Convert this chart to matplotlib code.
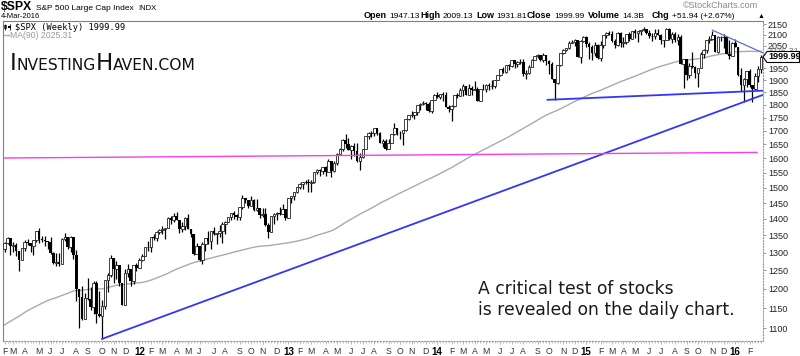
import numpy as np
import pandas as pd
import matplotlib
matplotlib.use("Agg")
import matplotlib.pyplot as plt
from matplotlib.patches import Polygon

# weekly $SPX bars, week ending 11-Feb-2011 .. 4-Mar-2016
closes = [
    # 2011
    1329, 1343, 1320, 1321, 1304, 1279, 1314, 1332, 1328, 1320, 1337, 1364, 1340, 1338, 1333, 1331,
    1300, 1271, 1272, 1268, 1340, 1344, 1316, 1345, 1292, 1199, 1179, 1124, 1177, 1174, 1154, 1216,
    1136, 1131, 1155, 1225, 1238, 1285, 1253, 1264, 1216, 1159, 1244, 1255, 1220, 1265, 1258,
    # 2012
    1278, 1289, 1315, 1316, 1345, 1343, 1361, 1366, 1370, 1371, 1404, 1397, 1408, 1398, 1370, 1379,
    1403, 1369, 1353, 1295, 1318, 1278, 1326, 1343, 1335, 1362, 1355, 1357, 1363, 1386, 1391, 1406,
    1418, 1411, 1407, 1438, 1466, 1460, 1441, 1461, 1429, 1433, 1412, 1414, 1380, 1360, 1409, 1416,
    1418, 1414, 1430, 1402,
    # 2013
    1466, 1472, 1486, 1503, 1513, 1518, 1520, 1516, 1518, 1551, 1561, 1557, 1569, 1553, 1589, 1555,
    1582, 1614, 1634, 1667, 1650, 1631, 1643, 1627, 1592, 1606, 1632, 1680, 1692, 1692, 1710, 1691,
    1656, 1664, 1633, 1655, 1688, 1710, 1692, 1691, 1703, 1745, 1760, 1762, 1771, 1798, 1805, 1806,
    1805, 1775, 1818, 1841,
    # 2014
    1831, 1842, 1839, 1790, 1783, 1797, 1839, 1836, 1859, 1878, 1841, 1867, 1858, 1865, 1816, 1865,
    1863, 1881, 1878, 1878, 1901, 1924, 1949, 1936, 1963, 1961, 1985, 1968, 1978, 1978, 1925, 1932,
    1955, 1988, 2003, 2008, 1986, 2010, 1983, 1968, 1906, 1887, 1965, 2018, 2032, 2040, 2064, 2068,
    2075, 2002, 2071, 2089,
    # 2015
    2058, 2045, 2019, 2052, 1995, 2055, 2097, 2110, 2105, 2071, 2053, 2108, 2061, 2067, 2102, 2081,
    2118, 2108, 2116, 2123, 2126, 2107, 2093, 2094, 2110, 2101, 2077, 2077, 2127, 2080, 2104, 2078,
    2092, 1971, 1989, 1921, 1961, 1958, 1931, 1951, 2015, 2033, 2075, 2079, 2099, 2023, 2089, 2090,
    2092, 2012, 2006, 2061, 2044,
    # 2016
    1922, 1880, 1907, 1940, 1880, 1865, 1918, 1948, 2000,
]
highs = [
    1330, 1344, 1342, 1332, 1327, 1304, 1314, 1337, 1339, 1329, 1337, 1364, 1371, 1349, 1347, 1334,
    1346, 1302, 1298, 1298, 1341, 1357, 1344, 1347, 1345, 1307, 1199, 1208, 1190, 1230, 1204, 1220,
    1221, 1195, 1171, 1225, 1242, 1293, 1285, 1277, 1264, 1217, 1255, 1267, 1255, 1266, 1270,
    1285, 1297, 1316, 1333, 1345, 1355, 1362, 1368, 1378, 1373, 1405, 1409, 1420, 1423, 1398, 1391,
    1406, 1415, 1370, 1354, 1329, 1319, 1330, 1343, 1364, 1363, 1374, 1358, 1380, 1391, 1395, 1407,
    1419, 1426, 1414, 1438, 1475, 1466, 1460, 1471, 1464, 1464, 1434, 1434, 1434, 1388, 1409, 1419,
    1423, 1438, 1448, 1430,
    1467, 1472, 1486, 1503, 1514, 1518, 1525, 1530, 1525, 1552, 1564, 1564, 1570, 1573, 1597, 1589,
    1592, 1618, 1636, 1668, 1687, 1674, 1646, 1654, 1654, 1620, 1632, 1680, 1694, 1698, 1710, 1709,
    1696, 1670, 1669, 1671, 1689, 1730, 1711, 1698, 1704, 1745, 1760, 1775, 1771, 1799, 1806, 1814,
    1810, 1811, 1818, 1844,
    1850, 1843, 1851, 1850, 1798, 1798, 1841, 1847, 1867, 1884, 1878, 1884, 1875, 1897, 1873, 1865,
    1884, 1885, 1889, 1903, 1901, 1924, 1949, 1956, 1964, 1969, 1985, 1986, 1983, 1992, 1992, 1942,
    1964, 1993, 2006, 2012, 2008, 2019, 2008, 1986, 1977, 1906, 1965, 2018, 2034, 2041, 2071, 2076,
    2079, 2076, 2077, 2094,
    2094, 2065, 2054, 2065, 2057, 2072, 2097, 2111, 2119, 2118, 2080, 2114, 2114, 2090, 2103, 2111,
    2120, 2125, 2120, 2124, 2135, 2127, 2122, 2110, 2127, 2126, 2102, 2078, 2130, 2133, 2114, 2113,
    2105, 2101, 1993, 1987, 1975, 2021, 1960, 1952, 2020, 2034, 2076, 2094, 2116, 2100, 2094, 2095,
    2104, 2090, 2077, 2067, 2082,
    2044, 1950, 1908, 1940, 1947, 1881, 1930, 1962, 2009,
]
lows = [
    1302, 1324, 1294, 1303, 1291, 1249, 1283, 1305, 1322, 1303, 1294, 1331, 1329, 1332, 1318, 1311,
    1295, 1269, 1262, 1263, 1268, 1334, 1309, 1303, 1282, 1169, 1102, 1121, 1123, 1170, 1145, 1136,
    1114, 1127, 1075, 1149, 1192, 1233, 1215, 1226, 1209, 1158, 1158, 1231, 1209, 1213, 1248,
    1258, 1275, 1289, 1306, 1301, 1337, 1335, 1354, 1355, 1340, 1371, 1386, 1392, 1396, 1357, 1359,
    1366, 1368, 1344, 1292, 1296, 1277, 1267, 1306, 1324, 1309, 1350, 1326, 1346, 1329, 1354, 1390,
    1397, 1399, 1398, 1396, 1430, 1451, 1434, 1441, 1425, 1426, 1403, 1406, 1377, 1343, 1359, 1385,
    1398, 1412, 1422, 1398,
    1402, 1451, 1461, 1482, 1495, 1495, 1511, 1486, 1485, 1514, 1547, 1538, 1545, 1539, 1552, 1537,
    1553, 1578, 1614, 1627, 1636, 1630, 1598, 1608, 1588, 1560, 1601, 1632, 1671, 1676, 1680, 1684,
    1654, 1640, 1628, 1634, 1656, 1686, 1684, 1670, 1646, 1700, 1740, 1752, 1746, 1760, 1780, 1799,
    1780, 1772, 1767, 1818,
    1827, 1823, 1815, 1790, 1772, 1738, 1791, 1826, 1834, 1835, 1839, 1839, 1839, 1858, 1814, 1816,
    1860, 1851, 1859, 1863, 1868, 1901, 1916, 1930, 1932, 1944, 1958, 1952, 1955, 1968, 1917, 1904,
    1928, 1956, 1987, 1995, 1984, 1979, 1965, 1926, 1905, 1821, 1886, 1961, 2014, 2026, 2034, 2062,
    2049, 2002, 1973, 2066,
    2046, 1992, 1988, 2005, 1989, 1981, 2041, 2085, 2098, 2066, 2039, 2049, 2046, 2045, 2057, 2073,
    2079, 2086, 2068, 2099, 2117, 2104, 2085, 2072, 2083, 2100, 2056, 2045, 2076, 2078, 2063, 2068,
    2053, 1970, 1867, 1903, 1911, 1953, 1909, 1872, 1951, 1994, 2019, 2064, 2076, 2023, 2019, 2070,
    2042, 2012, 1993, 2005, 2044,
    1918, 1857, 1812, 1872, 1872, 1810, 1865, 1891, 1932,
]
first_open = 1311

# closes before the chart (29-May-2009 .. 4-Feb-2011), only used for the MA(90)
pre_closes = [
    919, 940, 946, 921, 918, 896, 879, 940, 979, 987, 1010, 1005, 1026, 1029, 1016, 1042,
    1068, 1044, 1025, 1071, 1087, 1080, 1036, 1069, 1093, 1091, 1091, 1106, 1106, 1102, 1127, 1115,
    1145, 1136, 1092, 1074, 1066, 1075, 1109, 1104, 1139, 1150, 1160, 1167, 1179, 1194, 1192, 1217,
    1187, 1111, 1136, 1088, 1089, 1065, 1092, 1117, 1076, 1023, 1078, 1065, 1102, 1102, 1122, 1079,
    1071, 1065, 1105, 1110, 1125, 1149, 1147, 1166, 1176, 1183, 1183, 1225, 1200, 1200, 1189, 1224,
    1240, 1244, 1257, 1258, 1272, 1293, 1283, 1276, 1311,
]

# hand drawn lines (bar index, price)
support_x, support_y = [34, 264.7], [1075, 1840]
neck_x, neck_y = [189.5, 264.7], [1820, 1857]
resist_x, resist_y = [247, 264.7], [2122, 2018]
level_x, level_y = [-0.6, 262.6], [1601, 1621]

price_ticks = [1100, 1150, 1200, 1250, 1300, 1350, 1400, 1450, 1500, 1550, 1600, 1650, 1700,
               1750, 1800, 1850, 1900, 1950, 2050, 2100, 2150]
header = [("Open", "1947.13", 364), ("High", "2009.13", 420), ("Low", "1931.81", 476),
          ("Close", "1999.99", 527), ("Volume", "14.3B", 588), ("Chg", "+51.94 (+2.67%)", 652)]
last_close_txt = "1999.99"
ma_last_txt = "2026.31"
ma_legend_txt = "MA(90) 2025.31"
note_lines = ["A critical test of stocks", "is revealed on the daily chart."]

SANS = ["Liberation Sans", "DejaVu Sans"]


def main():
    c = np.array(closes, float)
    h = np.array(highs, float)
    l = np.array(lows, float)
    o = np.concatenate([[first_open], c[:-1]])
    n = len(c)
    x = np.arange(n)
    ma = pd.Series(pre_closes + closes, dtype=float).rolling(90).mean().to_numpy()[len(pre_closes):]
    dates = pd.date_range("2011-02-11", periods=n, freq="W-FRI")

    fig = plt.figure(figsize=(8, 3.56), dpi=100)
    ax = fig.add_axes([3 / 800, 15 / 356, 760 / 800, 320 / 356])
    ax.set_yscale("log")

    # candles: hollow when up, filled when down
    up = c >= o
    ax.vlines(x, l, h, color="black", lw=0.9, zorder=2)
    ax.bar(x[up], (c - o)[up], bottom=o[up], width=0.9, facecolor="white",
           edgecolor="#222222", lw=0.6, zorder=3)
    ax.bar(x[~up], (o - c)[~up], bottom=c[~up], width=0.9, color="black", lw=0, zorder=3)

    ax.plot(x, ma, color="#aaaaaa", lw=1.0, zorder=1)
    ax.plot(support_x, support_y, color="#3535f5", lw=1.3, zorder=4)
    ax.plot(neck_x, neck_y, color="#3535f5", lw=1.3, zorder=4)
    ax.plot(resist_x, resist_y, color="#5d6fc4", lw=0.9, zorder=4)
    ax.plot(level_x, level_y, color="#f040f0", lw=1.0, zorder=4)

    ax.set_xlim(-0.6, 264.7)
    ax.set_ylim(1070, 2165)

    # right price axis
    ax.yaxis.tick_right()
    ax.yaxis.set_minor_locator(matplotlib.ticker.NullLocator())
    ax.set_yticks(price_ticks)
    ax.set_yticklabels([str(v) for v in price_ticks])
    ax.tick_params(axis="y", length=2, width=0.6, color="#888888", pad=1.5, labelsize=6.5,
                   labelcolor="#222222")

    # month labels, January shows the year; no label for a month with a single bar at the end
    pos, labs = [], []
    for i, d in enumerate(dates):
        if (i == 0 or d.month != dates[i - 1].month) and i < n - 2:
            pos.append(i)
            labs.append("%02d" % (d.year % 100) if d.month == 1 else "JFMAMJJASOND"[d.month - 1])
    ax.set_xticks(pos)
    ax.set_xticklabels(labs)
    ax.set_xticks(x, minor=True)
    ax.tick_params(axis="x", which="major", length=2, width=0.5, color="#999999", pad=2,
                   labelsize=6.3, labelcolor="#333333")
    ax.tick_params(axis="x", which="minor", length=1.5, width=0.5, color="#aaaaaa")
    for t, s in zip(ax.get_xticklabels(), labs):
        t.set_family(SANS)
        if s.isdigit():
            t.set_fontweight("bold")
            t.set_color("black")
            t.set_fontsize(7)
    for t in ax.get_yticklabels():
        t.set_family(SANS)

    for side in ("top", "left"):
        ax.spines[side].set_color("#808080")
        ax.spines[side].set_linewidth(0.8)
    for side in ("right", "bottom"):
        ax.spines[side].set_color("#999999")
        ax.spines[side].set_linewidth(0.8)
        ax.spines[side].set_linestyle(":")

    # overlay in pixel units for the texts around the chart
    over = fig.add_axes([0, 0, 1, 1], facecolor="none")
    over.set_xlim(0, 800)
    over.set_ylim(356, 0)
    over.axis("off")

    over.text(1, 10.5, "$SPX", fontsize=8.8, fontweight="bold", family=SANS, va="baseline")
    over.text(36, 10.5, "S&P 500 Large Cap Index", fontsize=6, family=SANS, va="baseline")
    over.text(138, 10.5, "INDX", fontsize=5.5, family=SANS, va="baseline")
    over.text(1, 18, "4-Mar-2016", fontsize=5.5, family=SANS, va="baseline")
    over.text(683, 8.5, "\u00a9StockCharts.com", fontsize=6.5, family=SANS, va="baseline",
              color="#888888")
    for lab, val, px in header:
        t = over.text(px, 17.5, lab, fontsize=6.5, fontweight="bold", family=SANS, va="baseline")
        fig.canvas.draw()
        x1 = t.get_window_extent().x1
        over.text(x1 + 2.5, 17.5, val, fontsize=6.0, family=SANS, va="baseline")
    over.text(758, 17.5, "\u25b2", fontsize=5, family=SANS, va="baseline")

    # legend
    over.vlines(5, 23.5, 30, color="black", lw=0.6)
    over.add_patch(plt.Rectangle((3.8, 25), 2.4, 3, fc="white", ec="black", lw=0.5))
    over.vlines(9.5, 24, 29.5, color="black", lw=0.6)
    over.add_patch(plt.Rectangle((8.3, 25.5), 2.4, 2.5, fc="black", lw=0))
    over.text(15, 29.5, "$SPX (Weekly) " + last_close_txt, fontsize=6.2,
              family="DejaVu Sans Mono", va="baseline")
    over.plot([4, 9], [35, 35], color="#aaaaaa", lw=1)
    over.text(10, 37.5, ma_legend_txt, fontsize=6.2, family=SANS, va="baseline", color="#999999")

    # site name in small caps
    xx = 10
    for piece, size in [("I", 16.5), ("NVESTING", 11.2), ("H", 16.5), ("AVEN.COM", 11.2)]:
        t = over.text(xx, 70, piece, fontsize=size, family="DejaVu Sans", va="baseline",
                      color="#111111")
        fig.canvas.draw()
        xx = t.get_window_extent().x1

    for k, line in enumerate(note_lines):
        over.text(478, 294.3 + 20.7 * k, line, fontsize=12.3, family="DejaVu Sans",
                  va="baseline", color="#1a1a1a")

    # price tags on the right axis
    yc = 356 - ax.transData.transform((0, c[-1]))[1]
    over.add_patch(Polygon([(763, yc), (767, yc - 5.5), (799.5, yc - 5.5), (799.5, yc + 5.5),
                            (767, yc + 5.5)], closed=True, fc="white", ec="black", lw=0.8,
                           zorder=5))
    over.text(768, yc, last_close_txt, fontsize=6.5, fontweight="bold", family=SANS,
              va="center", zorder=6)
    ym = 356 - ax.transData.transform((0, float(ma_last_txt)))[1]
    over.text(767, ym, ma_last_txt, fontsize=6.5, family=SANS, va="center", color="#777777")

    fig.savefig("out.png", dpi=100)


if __name__ == "__main__":
    main()
